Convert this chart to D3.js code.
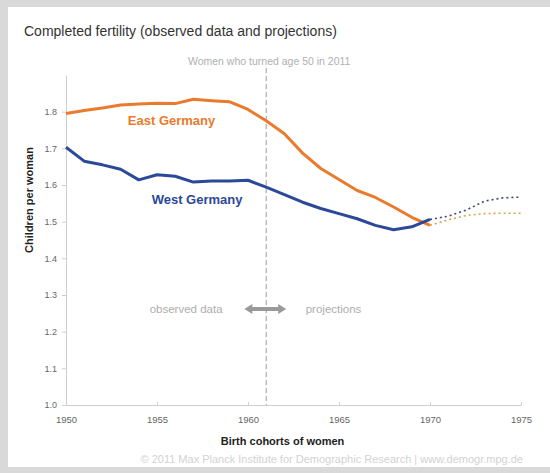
<!DOCTYPE html>
<html>
<head>
<meta charset="utf-8">
<script src="https://cdn.jsdelivr.net/npm/d3@7"></script>
<style>
  body { margin: 0; background: #fff; }
  svg { display: block; font-family: "Liberation Sans", Arial, sans-serif; }
</style>
</head>
<body>
<svg id="drawing_region"></svg>
<script>
// observed data, birth cohorts 1950-1970
const years = d3.range(1950, 1971);
const east_values = [1.795, 1.803, 1.810, 1.818, 1.821, 1.823, 1.822, 1.834, 1.830, 1.827,
                     1.806, 1.775, 1.740, 1.687, 1.645, 1.615, 1.585, 1.566, 1.540, 1.512, 1.490];
const west_values = [1.703, 1.665, 1.655, 1.643, 1.614, 1.628, 1.624, 1.608, 1.611, 1.611,
                     1.613, 1.594, 1.574, 1.553, 1.536, 1.522, 1.508, 1.490, 1.478, 1.486, 1.506];

// projections 1970-1975
const proj_years = [1970, 1971, 1972, 1973, 1974, 1975];
const east_proj = [1.490, 1.505, 1.517, 1.522, 1.523, 1.523];
const west_proj = [1.506, 1.515, 1.532, 1.556, 1.565, 1.567];

const x_ticks = [1950, 1955, 1960, 1965, 1970, 1975];
const y_ticks = [1.0, 1.1, 1.2, 1.3, 1.4, 1.5, 1.6, 1.7, 1.8];
const marker_year = 1961;

const config = {
    width: 550,
    height: 473,
    margin: {top: 75, right: 29, bottom: 68, left: 66}
};

const svg = d3.select('#drawing_region')
    .attr('width', config.width)
    .attr('height', config.height);

// grey frame + white panel
svg.append('rect').attr('width', config.width).attr('height', config.height).attr('fill', '#d9d9d9');
svg.append('rect').attr('x', 8).attr('y', 7).attr('width', config.width - 8).attr('height', 460).attr('fill', '#fff');

const inner_width = config.width - config.margin.left - config.margin.right;
const inner_height = config.height - config.margin.top - config.margin.bottom;

const chart = svg.append('g')
    .attr('transform', `translate(${config.margin.left}, ${config.margin.top})`);

const xscale = d3.scaleLinear().domain([1950, 1975]).range([0, inner_width]);
const yscale = d3.scaleLinear().domain([1.0, 1.9]).range([inner_height, 0]);

// axes
const xaxis = d3.axisBottom(xscale).tickValues(x_ticks).tickFormat(d3.format('d'))
    .tickSize(3).tickSizeOuter(0).tickPadding(8);
const yaxis = d3.axisLeft(yscale).tickValues(y_ticks).tickFormat(d3.format('.1f'))
    .tickSize(4).tickSizeOuter(0).tickPadding(5);

const xg = chart.append('g').attr('transform', `translate(0, ${inner_height})`).call(xaxis);
const yg = chart.append('g').call(yaxis);

[xg, yg].forEach(g => {
    g.select('.domain').attr('stroke', '#cfcfcf');
    g.selectAll('.tick line').attr('stroke', '#cfcfcf');
    g.selectAll('.tick text').attr('fill', '#666').attr('font-size', 9.5)
        .attr('font-family', '"Liberation Sans", Arial, sans-serif');
});
yg.selectAll('.tick text').attr('font-size', 9);
xg.selectAll('.tick line').attr('y2', -3);

// marker line
chart.append('line')
    .attr('x1', xscale(marker_year)).attr('x2', xscale(marker_year))
    .attr('y1', -7).attr('y2', inner_height)
    .attr('stroke', '#9a9a9a').attr('stroke-width', 1).attr('stroke-dasharray', '5,3');

chart.append('text')
    .attr('x', xscale(marker_year) + 3).attr('y', -10)
    .attr('text-anchor', 'middle').attr('font-size', 10.5).attr('fill', '#b0b0b0')
    .text('Women who turned age 50 in 2011');

const line = d3.line().x(d => xscale(d[0])).y(d => yscale(d[1]));

// projections (dotted)
chart.append('path')
    .datum(proj_years.map((y, i) => [y, east_proj[i]]))
    .attr('d', line).attr('fill', 'none')
    .attr('stroke', '#d9a24e').attr('stroke-width', 1.6).attr('stroke-dasharray', '2,3');
chart.append('path')
    .datum(proj_years.map((y, i) => [y, west_proj[i]]))
    .attr('d', line).attr('fill', 'none')
    .attr('stroke', '#3b4a6e').attr('stroke-width', 1.6).attr('stroke-dasharray', '2,3');

// observed lines
chart.append('path')
    .datum(years.map((y, i) => [y, east_values[i]]))
    .attr('d', line).attr('fill', 'none')
    .attr('stroke', '#ea7a2c').attr('stroke-width', 3).attr('stroke-linejoin', 'round');
chart.append('path')
    .datum(years.map((y, i) => [y, west_values[i]]))
    .attr('d', line).attr('fill', 'none')
    .attr('stroke', '#2b4899').attr('stroke-width', 3).attr('stroke-linejoin', 'round');

// series labels
chart.append('text')
    .attr('x', xscale(1955.8)).attr('y', yscale(1.764))
    .attr('text-anchor', 'middle').attr('font-size', 13).attr('font-weight', 'bold').attr('fill', '#ea7a2c')
    .text('East Germany');
chart.append('text')
    .attr('x', xscale(1957.2)).attr('y', yscale(1.548))
    .attr('text-anchor', 'middle').attr('font-size', 13).attr('font-weight', 'bold').attr('fill', '#2b4899')
    .text('West Germany');

// observed / projections note
const note_y = yscale(1.262);
chart.append('text')
    .attr('x', xscale(1956.6)).attr('y', note_y + 4)
    .attr('text-anchor', 'middle').attr('font-size', 11.5).attr('fill', '#adadad')
    .text('observed data');
chart.append('text')
    .attr('x', xscale(1964.7)).attr('y', note_y + 4)
    .attr('text-anchor', 'middle').attr('font-size', 11.5).attr('fill', '#adadad')
    .text('projections');

const ax1 = xscale(1959.8), ax2 = xscale(1962.1);
chart.append('line')
    .attr('x1', ax1 + 5).attr('x2', ax2 - 5).attr('y1', note_y).attr('y2', note_y)
    .attr('stroke', '#9a9a9a').attr('stroke-width', 4);
chart.append('path')
    .attr('d', `M${ax1},${note_y} L${ax1 + 8},${note_y - 5} L${ax1 + 8},${note_y + 5} Z M${ax2},${note_y} L${ax2 - 8},${note_y - 5} L${ax2 - 8},${note_y + 5} Z`)
    .attr('fill', '#9a9a9a');

// titles
svg.append('text')
    .attr('x', 24).attr('y', 36)
    .attr('font-size', 14).attr('fill', '#333')
    .text('Completed fertility (observed data and projections)');

svg.append('text')
    .attr('transform', `translate(33, 200) rotate(-90)`)
    .attr('text-anchor', 'middle').attr('font-size', 11).attr('font-weight', 'bold').attr('fill', '#222')
    .text('Children per woman');

svg.append('text')
    .attr('x', config.margin.left + xscale(1961.9)).attr('y', 445)
    .attr('text-anchor', 'middle').attr('font-size', 11).attr('font-weight', 'bold').attr('fill', '#222')
    .text('Birth cohorts of women');

svg.append('text')
    .attr('x', 523).attr('y', 463)
    .attr('text-anchor', 'end').attr('font-size', 11).attr('fill', '#d2d2d2')
    .text('© 2011 Max Planck Institute for Demographic Research | www.demogr.mpg.de');
</script>
</body>
</html>
